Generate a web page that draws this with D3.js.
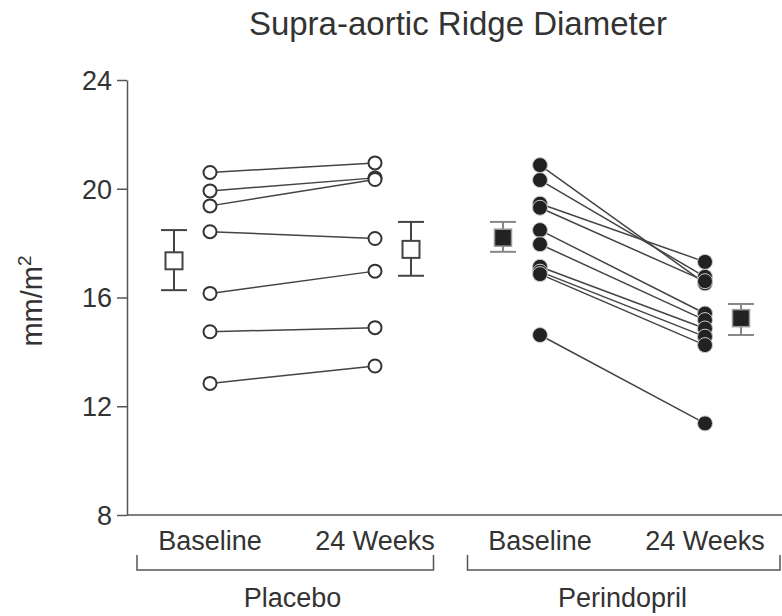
<!DOCTYPE html>
<html>
<head>
<meta charset="utf-8">
<script src="https://cdn.jsdelivr.net/npm/d3@7"></script>
<style>
  body { margin: 0; background: #fff; }
  svg text { font-family: "Liberation Sans", Arial, Helvetica, sans-serif; fill: #333; }
</style>
</head>
<body>
<svg id="paper" width="782" height="616"></svg>
<script>
// columns along the x axis
var columns = ["pBase", "pWeeks", "dBase", "dWeeks"];
var columnLabels = ["Baseline", "24 Weeks", "Baseline", "24 Weeks"];
var groupLabels = ["Placebo", "Perindopril"];
var yTicks = [8, 12, 16, 20, 24];

// individual subjects, baseline -> 24 weeks
var placeboBase  = [20.6, 19.92, 19.37, 18.42, 16.15, 14.74, 12.84];
var placeboWeeks = [20.95, 20.4, 20.34, 18.17, 16.97, 14.89, 13.48];
var perinBase  = [20.87, 20.32, 19.45, 19.3, 18.48, 17.96, 17.13, 16.95, 16.86, 14.62];
var perinWeeks = [16.52, 16.76, 17.31, 16.6, 15.41, 15.17, 14.86, 14.56, 14.25, 11.37];

// group means with error bars [mean, low, high]
var placeboMeans = [[17.35, 16.27, 18.48], [17.77, 16.8, 18.78]];
var perinMeans   = [[18.2, 17.68, 18.78], [15.24, 14.62, 15.76]];

var W = 782, H = 616;
var axisX = 127;
var svg = d3.select("#paper");

var y = d3.scaleLinear().domain([8, 24]).range([515, 80]);
var x = d3.scalePoint().domain(columns).range([210, 705]);

// title
svg.append("text")
    .attr("x", 458).attr("y", 35)
    .attr("text-anchor", "middle")
    .style("font-size", "33px")
    .text("Supra-aortic Ridge Diameter");

// y axis
var yAxis = d3.axisLeft(y).tickValues(yTicks).tickSize(10).tickSizeOuter(0).tickPadding(5);
var gy = svg.append("g").attr("transform", "translate(" + axisX + ",0)").call(yAxis);
gy.selectAll("path, line").attr("stroke", "#555").attr("stroke-width", 1.5);
gy.selectAll("text").style("font-size", "27px").style("font-family", "Liberation Sans, Arial, sans-serif").attr("fill", "#333").attr("dy", "0.35em");

// bottom line
svg.append("line")
    .attr("x1", axisX).attr("x2", W)
    .attr("y1", y(8)).attr("y2", y(8))
    .attr("stroke", "#555").attr("stroke-width", 1.5);

// y label
svg.append("text")
    .attr("transform", "translate(42," + 301 + ") rotate(-90)")
    .attr("text-anchor", "middle")
    .style("font-size", "29px")
    .html("mm/m<tspan dy='-11' style='font-size:19px'>2</tspan>");

// column labels
svg.selectAll(".collabel").data(columns).enter().append("text")
    .attr("class", "collabel")
    .attr("x", function (d) { return x(d); })
    .attr("y", 550)
    .attr("text-anchor", "middle")
    .style("font-size", "27px")
    .text(function (d, i) { return columnLabels[i]; });

// group brackets
var mid = (x("pWeeks") + x("dBase")) / 2;
var brackets = [[axisX + 10, mid - 24], [mid + 10, W - 2]];
var groupCenters = [(x("pBase") + x("pWeeks")) / 2, (x("dBase") + x("dWeeks")) / 2];
var by0 = 555, by1 = 570;
brackets.forEach(function (b, i) {
    svg.append("path")
        .attr("d", "M" + b[0] + "," + by0 + "V" + by1 + "H" + b[1] + "V" + by0)
        .attr("fill", "none").attr("stroke", "#555").attr("stroke-width", 1.5);
    svg.append("text")
        .attr("x", groupCenters[i]).attr("y", 607)
        .attr("text-anchor", "middle")
        .style("font-size", "27px")
        .text(groupLabels[i]);
});

function drawSubjects(base, weeks, c0, c1, filled) {
    var pairs = base.map(function (v, i) { return [v, weeks[i]]; });
    var g = svg.append("g");
    g.selectAll("line").data(pairs).enter().append("line")
        .attr("x1", x(c0)).attr("x2", x(c1))
        .attr("y1", function (d) { return y(d[0]); })
        .attr("y2", function (d) { return y(d[1]); })
        .attr("stroke", "#444").attr("stroke-width", 1.5);
    [[base, c0], [weeks, c1]].forEach(function (s) {
        g.selectAll(null).data(s[0]).enter().append("circle")
            .attr("cx", x(s[1]))
            .attr("cy", function (d) { return y(d); })
            .attr("r", filled ? 7.5 : 6.5)
            .attr("fill", filled ? "#222" : "#fff")
            .attr("stroke", filled ? "#ccc" : "#333")
            .attr("stroke-width", filled ? 1 : 2);
    });
}

function drawMean(m, cx, filled) {
    var g = svg.append("g");
    var cap = 13, half = 8.5;
    var col = filled ? "#888" : "#444";
    g.append("line").attr("x1", cx).attr("x2", cx)
        .attr("y1", y(m[1])).attr("y2", y(m[2]))
        .attr("stroke", col).attr("stroke-width", 2);
    [m[1], m[2]].forEach(function (v) {
        g.append("line").attr("x1", cx - cap).attr("x2", cx + cap)
            .attr("y1", y(v)).attr("y2", y(v))
            .attr("stroke", col).attr("stroke-width", 2);
    });
    g.append("rect")
        .attr("x", cx - half).attr("y", y(m[0]) - half)
        .attr("width", half * 2).attr("height", half * 2)
        .attr("fill", filled ? "#222" : "#fff")
        .attr("stroke", filled ? "#999" : "#444")
        .attr("stroke-width", filled ? 1.5 : 2);
}

drawSubjects(placeboBase, placeboWeeks, "pBase", "pWeeks", false);
drawSubjects(perinBase, perinWeeks, "dBase", "dWeeks", true);

drawMean(placeboMeans[0], x("pBase") - 36, false);
drawMean(placeboMeans[1], x("pWeeks") + 36, false);
drawMean(perinMeans[0], x("dBase") - 37, true);
drawMean(perinMeans[1], x("dWeeks") + 36, true);
</script>
</body>
</html>
